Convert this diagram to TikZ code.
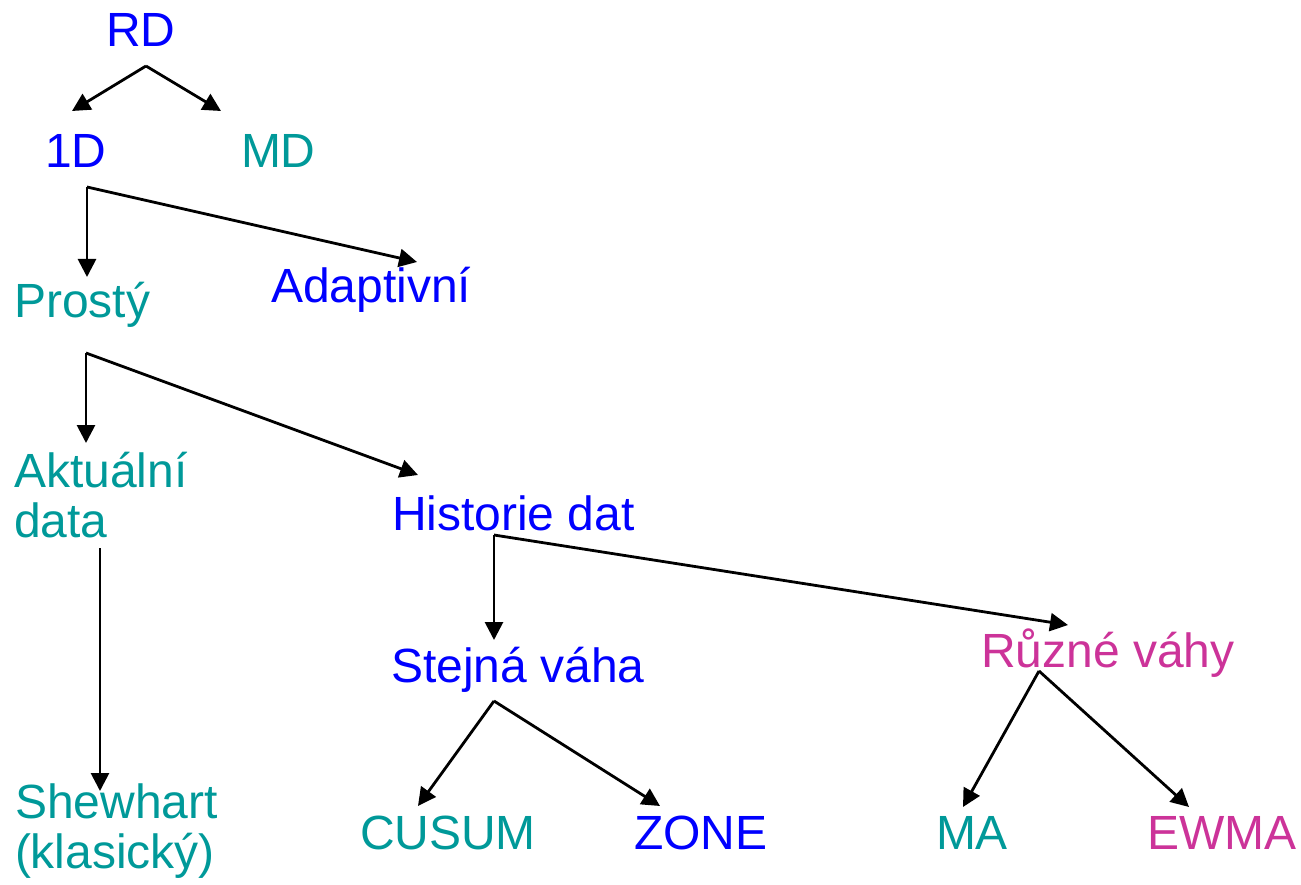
\documentclass[tikz,border=0pt]{standalone}
\usepackage{fontspec}
\setmainfont{Liberation Sans}
\usetikzlibrary{arrows.meta}
\definecolor{cblue}{RGB}{0,0,255}
\definecolor{cteal}{RGB}{0,153,153}
\definecolor{cmag}{RGB}{204,51,153}
\tikzset{
  lbl/.style={anchor=base west, inner sep=0pt, outer sep=0pt, font=\fontsize{48}{50}\selectfont, align=left},
  arr/.style={draw=black, line width=2.8pt, -{Triangle[length=18pt,width=18pt]}}
}
\begin{document}
\begin{tikzpicture}[x=1pt,y=-1pt]
\useasboundingbox (0,0) rectangle (1301,885);
% nodes
\node[lbl,text=cblue] (rd) at (106,47) {RD};
\node[lbl,text=cblue] (d1) at (45,168) {1D};
\node[lbl,text=cteal] (md) at (241,168) {MD};
\node[lbl,text=cteal] (pr) at (14,318) {Prostý};
\node[lbl,text=cblue] (ad) at (271,303) {Adaptivní};
\node[lbl,text=cteal] (ak) at (14,537) {Aktuální\\data};
\node[lbl,text=cblue] (hi) at (392,530) {Historie dat};
\node[lbl,text=cblue] (st) at (391,682) {Stejná váha};
\node[lbl,text=cmag] (rz) at (981,667) {Různé váhy};
\node[lbl,text=cteal] (sh) at (15,868) {Shewhart\\(klasický)};
\node[lbl,text=cteal] (cu) at (360,849) {CUSUM};
\node[lbl,text=cblue] (zo) at (634,849) {ZONE};
\node[lbl,text=cteal] (ma) at (936,849) {MA};
\node[lbl,text=cmag] (ew) at (1147,849) {EWMA};
% connector points
\coordinate (rd-o) at (146,66);
\coordinate (d1-i) at (72,111);
\coordinate (md-i) at (221,111);
\coordinate (d1-o) at (87,187);
\coordinate (pr-i) at (87,277);
\coordinate (ad-i) at (417,262);
\coordinate (pr-o) at (86,353);
\coordinate (ak-i) at (86,443);
\coordinate (hi-i) at (418,475);
\coordinate (ak-o) at (100,548);
\coordinate (sh-i) at (100,791);
\coordinate (hi-o) at (494,535);
\coordinate (st-i) at (494,640);
\coordinate (rz-i) at (1068,625);
\coordinate (st-o) at (494,701);
\coordinate (cu-i) at (418,806);
\coordinate (zo-i) at (660,806);
\coordinate (rz-o) at (1039,671);
\coordinate (ma-i) at (963,807);
\coordinate (ew-i) at (1189,807);
% connectors
\draw[arr] (rd-o) -- (d1-i);
\draw[arr] (rd-o) -- (md-i);
\draw[arr] (d1-o) -- (pr-i);
\draw[arr] (d1-o) -- (ad-i);
\draw[arr] (pr-o) -- (ak-i);
\draw[arr] (pr-o) -- (hi-i);
\draw[arr] (ak-o) -- (sh-i);
\draw[arr] (hi-o) -- (st-i);
\draw[arr] (hi-o) -- (rz-i);
\draw[arr] (st-o) -- (cu-i);
\draw[arr] (st-o) -- (zo-i);
\draw[arr] (rz-o) -- (ma-i);
\draw[arr] (rz-o) -- (ew-i);
\end{tikzpicture}
\end{document}
